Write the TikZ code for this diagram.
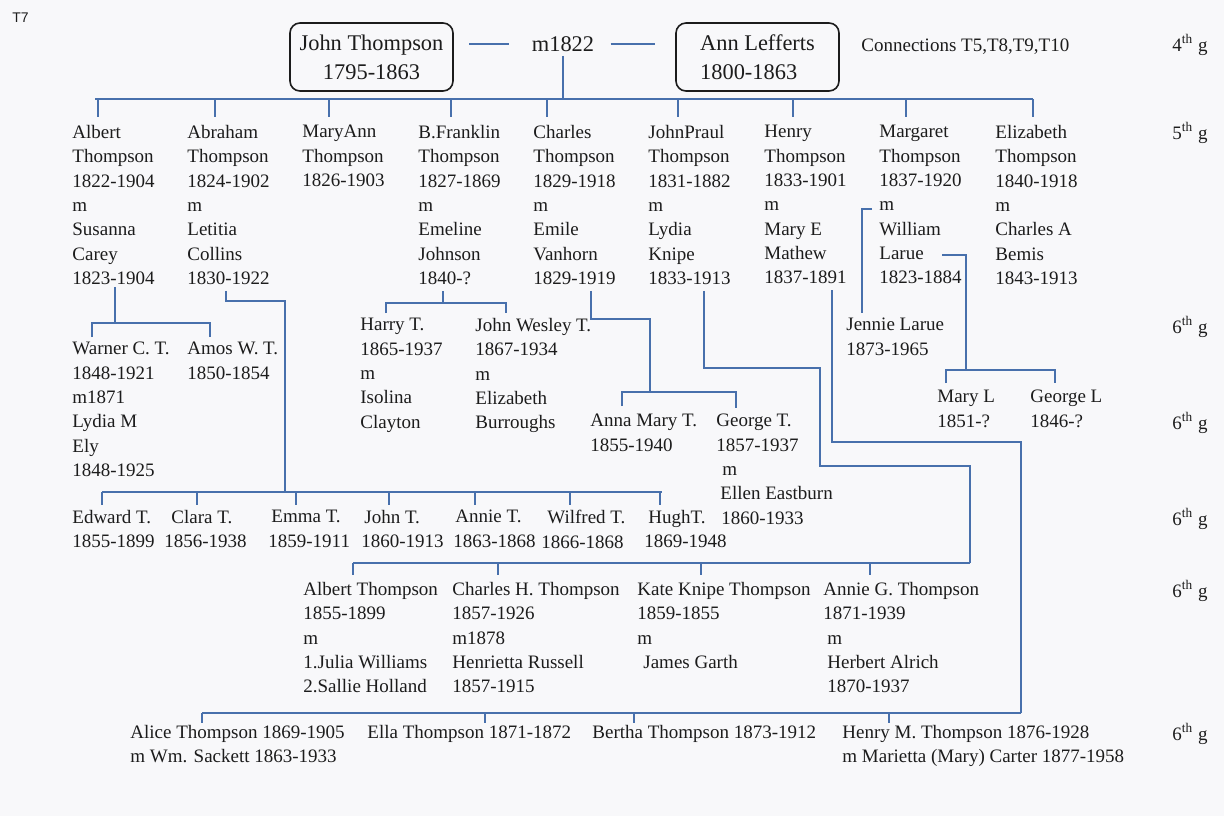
\documentclass[tikz,border=0pt]{standalone}
\usepackage{fontspec}
\setmainfont{Liberation Serif}
\newfontfamily\tagsans{Liberation Sans}
\usepackage{tikz}

\definecolor{linkblue}{RGB}{72,112,172}
\definecolor{inkgray}{RGB}{28,28,28}
\definecolor{paper}{RGB}{248,248,250}
\newcommand\kinfont{\fontsize{9.5}{12.15}\selectfont}
\newcommand\parentfont{\fontsize{11.2}{14.5}\selectfont}
\newcommand\gen[1]{#1\textsuperscript{th} g}

\tikzset{
  person/.style={anchor=north west, yshift=3.5pt, inner sep=0pt, align=left,
    font=\kinfont, text=inkgray},
  genlabel/.style={person, yshift=1.5pt},
  parent/.style={draw=inkgray, line width=0.8pt, rounded corners=5pt,
    minimum width=81.5pt, minimum height=34pt, font=\parentfont, text=inkgray},
  link/.style={draw=linkblue, line width=1pt},
  tick/.style={draw=linkblue, line width=0.6pt}
}

\begin{document}
\begin{tikzpicture}[x=0.5pt,y=-0.5pt]
			\useasboundingbox[fill=paper] (0,0) rectangle (1224,816);
			\node[person, font=\tagsans\fontsize{7}{8}\selectfont] (tag) at (12,19) {T7};
			\node[parent, align=center] (john) at (371.5,57) {John Thompson\\1795-1863};
			\node[font=\parentfont, text=inkgray, inner sep=1pt] (m1822) at (563,44) {m1822};
			\node[parent, align=left] (ann) at (757.5,57) {Ann Lefferts\\1800-1863};
			\node[person] (conn) at (861,45) {Connections T5,T8,T9,T10};
			\draw[link, shorten <=7.75pt, shorten >=10pt] (john.east |- m1822.west) -- (m1822.west);
			\draw[link, shorten <=7pt, shorten >=10pt] (m1822.east) -- (m1822.east -| ann.west);
			% generations
			\node[genlabel] (g4) at (1172,44) {\gen{4}};
			\node[genlabel] (g5) at (1172,132) {\gen{5}};
			\node[genlabel] (g6a) at (1172,326) {\gen{6}};
			\node[genlabel] (g6b) at (1172,422) {\gen{6}};
			\node[genlabel] (g6c) at (1172,518) {\gen{6}};
			\node[genlabel] (g6d) at (1172,590) {\gen{6}};
			\node[genlabel] (g6e) at (1172,733) {\gen{6}};
			% children
			\node[person] (albert) at (72,132) {Albert\\Thompson\\1822-1904\\m\\Susanna\\Carey\\1823-1904};
			\node[person] (abraham) at (187,132) {Abraham\\Thompson\\1824-1902\\m\\Letitia\\Collins\\1830-1922};
			\node[person] (maryann) at (302,132) {MaryAnn\\Thompson\\1826-1903};
			\node[person] (bfranklin) at (418,132) {B.Franklin\\Thompson\\1827-1869\\m\\Emeline\\Johnson\\1840-?};
			\node[person] (charles) at (533,132) {Charles\\Thompson\\1829-1918\\m\\Emile\\Vanhorn\\1829-1919};
			\node[person] (johnpraul) at (648,132) {JohnPraul\\Thompson\\1831-1882\\m\\Lydia\\Knipe\\1833-1913};
			\node[person] (henry) at (764,132) {Henry\\Thompson\\1833-1901\\m\\Mary E\\Mathew\\1837-1891};
			\node[person] (margaret) at (879,132) {Margaret\\Thompson\\1837-1920\\m\\William\\Larue\\1823-1884};
			\node[person] (elizabeth) at (995,132) {Elizabeth\\Thompson\\1840-1918\\m\\Charles A\\Bemis\\1843-1913};
			\coordinate (bar5w) at (95,99);
			\coordinate (bar5e) at (1033,99);
			\draw[link, shorten <=1pt] (m1822.south) -- (m1822.south |- bar5w);
			\draw[link] (bar5w) -- (bar5e);
			\foreach \c/\x in {albert/98, abraham/215, maryann/329, bfranklin/451, charles/547,
				johnpraul/678, henry/793, margaret/906, elizabeth/1033}
				\draw[link, shorten >=4pt] (bar5w -| \x,0) -- (\c.north -| \x,0);
			% grandchildren
			\node[person] (warner) at (72,349) {Warner C. T.\\1848-1921\\m1871\\Lydia M\\Ely\\1848-1925};
			\node[person] (amos) at (187,349) {Amos W. T.\\1850-1854};
			\node[person] (harry) at (360,325) {Harry T.\\1865-1937\\m\\Isolina\\Clayton};
			\node[person] (jwesley) at (475,325) {John Wesley T.\\1867-1934\\m\\Elizabeth\\Burroughs};
			\node[person] (jennie) at (846,325) {Jennie Larue\\1873-1965};
			\node[person] (annamary) at (590,421) {Anna Mary T.\\1855-1940};
			\node[person] (george) at (716,421) {George T.\\1857-1937\\\hspace*{3pt}m\\\hspace*{2pt}Ellen Eastburn\\\hspace*{2.5pt}1860-1933};
			\node[person] (maryl) at (937,397) {Mary L\\1851-?};
			\node[person] (georgel) at (1030,397) {George L\\1846-?};
			\node[person] (edward) at (72,517) {Edward T.\\1855-1899};
			\node[person] (clara) at (164,517) {\hspace*{3.5pt}Clara T.\\1856-1938};
			\node[person] (emma) at (268,517) {\hspace*{1.5pt}Emma T.\\1859-1911};
			\node[person] (johnt) at (361,517) {\hspace*{1.5pt}John T.\\1860-1913};
			\node[person] (annie) at (453,517) {\hspace*{1pt}Annie T.\\1863-1868};
			\node[person] (wilfred) at (541,517) {\hspace*{3pt}Wilfred T.\\1866-1868};
			\node[person] (hugh) at (644,517) {\hspace*{2pt}HughT.\\1869-1948};
			\node[person] (albertt) at (303,589) {Albert Thompson\\1855-1899\\m\\1.Julia Williams\\2.Sallie Holland};
			\node[person] (charlesh) at (452,589) {Charles H. Thompson\\1857-1926\\m1878\\Henrietta Russell\\1857-1915};
			\node[person] (kate) at (637,589) {Kate Knipe Thompson\\1859-1855\\m\\\hspace*{3pt}James Garth};
			\node[person] (annieg) at (823,589) {Annie G. Thompson\\1871-1939\\\hspace*{2pt}m\\\hspace*{2pt}Herbert Alrich\\\hspace*{2pt}1870-1937};
			\node[person] (alice) at (130,732) {Alice Thompson 1869-1905\\m Wm. Sackett 1863-1933};
			\node[person] (ella) at (367,732) {Ella Thompson 1871-1872};
			\node[person] (bertha) at (592,732) {Bertha Thompson 1873-1912};
			\node[person] (henrym) at (842,732) {Henry M. Thompson 1876-1928\\m Marietta (Mary) Carter 1877-1958};
			% Albert
			\coordinate (albert-j) at (115,323);
			\draw[link, shorten <=1pt] (albert.south -| albert-j) -- (albert-j);
			\draw[link, shorten <=2.5pt, shorten >=2.5pt] (warner.north -| 92,0) |- (albert-j) -| (amos.north -| 210,0);
			% Abraham
			\coordinate (abraham-j) at (285,492);
			\coordinate (ed-w) at (102,492);
			\coordinate (ed-e) at (662,492);
			\draw[link, shorten <=3pt] (abraham.south -| 226,0) -- (226,301) -| (abraham-j);
			\draw[link] (ed-w) -- (ed-e);
			\foreach \c/\x in {edward/102, clara/197, emma/296, johnt/389, annie/475, wilfred/570, hugh/660}
				\draw[tick, shorten >=2.5pt] (ed-w -| \x,0) -- (\c.north -| \x,0);
			% B.Franklin
			\coordinate (franklin-j) at (443,303);
			\draw[link, shorten <=3pt] (bfranklin.south -| franklin-j) -- (franklin-j);
			\draw[link, shorten <=2.5pt, shorten >=2.5pt] (harry.north -| 386,0) |- (franklin-j) -| (jwesley.north -| 506,0);
			% Charles
			\coordinate (charles-j) at (650,392);
			\draw[link, shorten <=3pt] (charles.south -| 591,0) -- (591,319) -| (charles-j);
			\draw[link, shorten <=4pt, shorten >=3pt] (annamary.north -| 622,0) |- (charles-j) -| (george.north -| 736,0);
			% JohnPraul
			\coordinate (praul-j) at (970,563);
			\draw[link, shorten <=3pt] (johnpraul.south -| 704,0) -- (704,368) -| (820,466) -| (praul-j);
			\draw[link] (praul-j) -- (praul-j -| 353,0);
			\foreach \c/\x in {albertt/353, charlesh/498, kate/701, annieg/870}
				\draw[tick, shorten >=3.5pt] (praul-j -| \x,0) -- (\c.north -| \x,0);
			% Henry
			\coordinate (henry-j) at (1021,713);
			\draw[link, shorten <=3pt] (henry.south -| 832,0) -- (832,442) -| (henry-j);
			\draw[link] (henry-j) -- (henry-j -| 202,0);
			\foreach \c/\x in {alice/202, ella/485, bertha/634, henrym/889}
				\draw[tick, shorten >=1pt] (henry-j -| \x,0) -- (\c.north -| \x,0);
			% Margaret
			\coordinate (margaret-m) at (872,209);
			\coordinate (larue-end) at (942,255);
			\coordinate (larue-j) at (966,370);
			\draw[link, shorten >=2.5pt] (margaret-m) -- (862,209) -- (jennie.north -| 862,0);
			\draw[link] (larue-end) -| (larue-j);
			\draw[link, shorten <=3.5pt, shorten >=3.5pt] (maryl.north -| 946,0) |- (larue-j) -| (georgel.north -| 1055,0);
		\end{tikzpicture}
\end{document}
